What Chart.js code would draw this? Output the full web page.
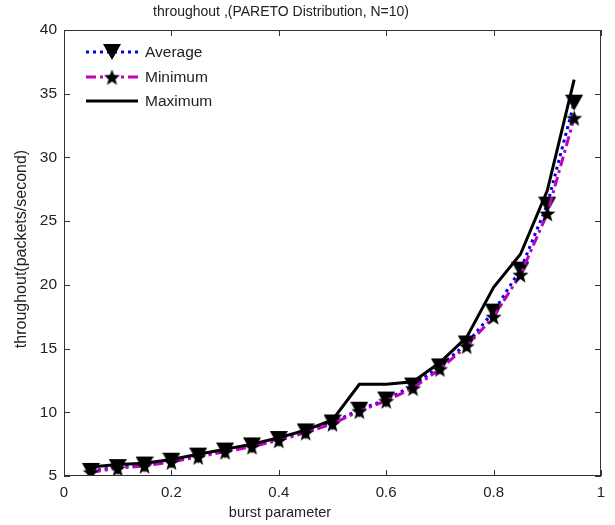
<!DOCTYPE html>
<html>
<head>
<meta charset="utf-8">
<script src="https://cdn.jsdelivr.net/npm/chart.js@4/dist/chart.umd.min.js"></script>
<style>
  body { margin: 0; background: #fff; }
  canvas { display: block; }
</style>
</head>
<body>
<canvas id="chart" width="615" height="525"></canvas>
<script>
// Daten
const burst = [0.05, 0.1, 0.15, 0.2, 0.25, 0.3, 0.35, 0.4, 0.45, 0.5, 0.55, 0.6, 0.65, 0.7, 0.75, 0.8, 0.85, 0.9, 0.95];
const avgValues = [5.4, 5.7, 5.9, 6.2, 6.6, 7.0, 7.4, 7.9, 8.5, 9.2, 10.2, 11.0, 12.1, 13.6, 15.4, 17.9, 21.2, 26.3, 34.3];
const minValues = [5.3, 5.6, 5.8, 6.1, 6.5, 6.9, 7.3, 7.8, 8.4, 9.1, 10.1, 10.9, 11.9, 13.4, 15.2, 17.5, 20.8, 25.6, 33.1];
const maxValues = [5.7, 5.9, 6.0, 6.3, 6.7, 7.1, 7.5, 8.0, 8.6, 9.4, 12.2, 12.2, 12.4, 13.9, 15.9, 19.8, 22.4, 27.4, 36.1];
const xTicks = [0, 0.2, 0.4, 0.6, 0.8, 1];
const yTicks = [5, 10, 15, 20, 25, 30, 35, 40];
const seriesNames = ["Average", "Minimum", "Maximum"];
const titleText = "throughout ,(PARETO Distribution, N=10)";
const xTitle = "burst parameter";
const yTitle = "throughout(packets/second)";

const FONT = "'Liberation Sans', Arial, sans-serif";
const TEXT = "#222";

// Marker als Canvas erzeugen
function triangleDown(size) {
    let c = document.createElement("canvas");
    c.width = size; c.height = size;
    let g = c.getContext("2d");
    g.fillStyle = "#000";
    g.beginPath();
    g.moveTo(0, 1);
    g.lineTo(size, 1);
    g.lineTo(size / 2, size - 1);
    g.closePath();
    g.fill();
    return c;
}

function star(size) {
    let c = document.createElement("canvas");
    c.width = size; c.height = size;
    let g = c.getContext("2d");
    g.fillStyle = "#000";
    g.beginPath();
    let cx = size / 2, cy = size / 2 + 1, R = size / 2, r = R * 0.42;
    for (let i = 0; i < 10; i++) {
        let a = -Math.PI / 2 + i * Math.PI / 5;
        let rad = i % 2 === 0 ? R : r;
        g.lineTo(cx + rad * Math.cos(a), cy + rad * Math.sin(a));
    }
    g.closePath();
    g.fill();
    return c;
}

const triMarker = triangleDown(18);
const starMarker = star(17);

// Rahmen, Ticks nach innen, Titel und Legende
const framePlugin = {
    id: "frame",
    afterDatasetsDraw(chart) {
        let ctx = chart.ctx;
        let a = chart.chartArea;
        let xs = chart.scales.x, ys = chart.scales.y;
        ctx.save();
        ctx.strokeStyle = "#333";
        ctx.lineWidth = 1;
        ctx.strokeRect(a.left + 0.5, a.top + 0.5, a.right - a.left - 1, a.bottom - a.top - 1);
        ctx.beginPath();
        xTicks.forEach(v => {
            let px = Math.round(xs.getPixelForValue(v)) + 0.5;
            ctx.moveTo(px, a.bottom); ctx.lineTo(px, a.bottom - 6);
            ctx.moveTo(px, a.top); ctx.lineTo(px, a.top + 6);
        });
        yTicks.forEach(v => {
            let py = Math.round(ys.getPixelForValue(v)) + 0.5;
            ctx.moveTo(a.left, py); ctx.lineTo(a.left + 6, py);
            ctx.moveTo(a.right, py); ctx.lineTo(a.right - 6, py);
        });
        ctx.stroke();

        // Titel und Achsenbeschriftungen
        ctx.fillStyle = TEXT;
        ctx.textAlign = "center";
        ctx.textBaseline = "middle";
        ctx.font = "14px " + FONT;
        ctx.fillText(titleText, 281, 12);
        ctx.font = "14.5px " + FONT;
        ctx.fillText(xTitle, 280, 513);
        ctx.save();
        ctx.translate(22, 249);
        ctx.rotate(-Math.PI / 2);
        ctx.font = "16px " + FONT;
        ctx.fillText(yTitle, 0, 0);
        ctx.restore();

        // Legende
        ctx.textAlign = "left";
        let ds = chart.data.datasets;
        let rows = [52, 77, 101];
        ds.forEach((d, i) => {
            let y = rows[i];
            ctx.strokeStyle = d.borderColor;
            ctx.lineWidth = d.borderWidth;
            ctx.setLineDash(d.borderDash || []);
            ctx.beginPath();
            ctx.moveTo(86, y); ctx.lineTo(138, y);
            ctx.stroke();
            ctx.setLineDash([]);
            if (d.pointStyle && typeof d.pointStyle !== "string") {
                let m = d.pointStyle;
                ctx.drawImage(m, 112 - m.width / 2, y - m.height / 2);
            }
            ctx.fillStyle = TEXT;
            ctx.font = "15.5px " + FONT;
            ctx.fillText(seriesNames[i], 145, y + 1);
        });
        ctx.restore();
    }
};

function points(values) {
    return burst.map((x, i) => ({ x: x, y: values[i] }));
}

new Chart(document.getElementById("chart"), {
    type: "line",
    data: {
        datasets: [
            {
                label: seriesNames[0],
                data: points(avgValues),
                borderColor: "#0000ee",
                borderWidth: 3,
                borderDash: [3, 4],
                pointStyle: triMarker,
                order: 3
            },
            {
                label: seriesNames[1],
                data: points(minValues),
                borderColor: "#bf00bf",
                borderWidth: 3,
                borderDash: [10, 4, 3, 4],
                pointStyle: starMarker,
                order: 2
            },
            {
                label: seriesNames[2],
                data: points(maxValues),
                borderColor: "#000",
                borderWidth: 3,
                pointRadius: 0,
                order: 1
            }
        ]
    },
    options: {
        responsive: false,
        animation: false,
        layout: { padding: { right: 14, top: 30, left: 0, bottom: 0 } },
        plugins: {
            legend: { display: false },
            tooltip: { enabled: false }
        },
        scales: {
            x: {
                type: "linear",
                min: 0, max: 1,
                afterBuildTicks: s => { s.ticks = xTicks.map(v => ({ value: v })); },
                afterFit: s => { s.height = 49; },
                grid: { display: false, drawTicks: false },
                border: { display: false },
                ticks: {
                    color: TEXT,
                    font: { family: FONT, size: 15 },
                    padding: 8,
                    maxRotation: 0,
                    callback: v => String(v)
                }
            },
            y: {
                type: "linear",
                min: 5, max: 40,
                afterBuildTicks: s => { s.ticks = yTicks.map(v => ({ value: v })); },
                afterFit: s => { s.width = 64; },
                grid: { display: false, drawTicks: false },
                border: { display: false },
                ticks: {
                    color: TEXT,
                    font: { family: FONT, size: 15.5 },
                    padding: 7
                }
            }
        }
    },
    plugins: [framePlugin]
});
</script>
</body>
</html>
